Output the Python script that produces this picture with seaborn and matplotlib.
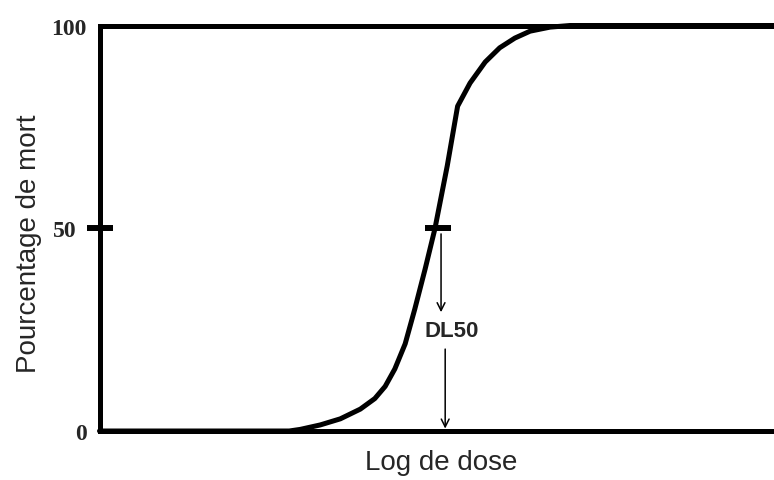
import matplotlib
matplotlib.use("Agg")
import matplotlib.pyplot as plt
import seaborn as sns
import pandas as pd

# dose-response curve (x = log dose, arbitrary units)
log_dose = [0.0, 27.5, 29.1, 32.0, 34.9, 37.8, 39.9, 41.4, 42.8, 44.3, 45.7,
            47.2, 48.6, 50.4, 51.9, 53.7, 55.9, 58.0, 60.2, 62.4, 65.3, 68.2,
            100.0]
mortality = [0.0, 0.0, 0.4, 1.5, 3.0, 5.4, 8.0, 11.0, 15.3, 21.5, 30.1,
             40.0, 49.8, 65.4, 80.1, 85.8, 91.0, 94.5, 96.9, 98.6, 99.6, 100.0,
             100.0]

dl50_x = 49.1
dl50_y = 50
y_major = [0, 100]
y_minor = [50]

sns.set_style("white")
plt.rcParams["font.family"] = ["Liberation Sans", "DejaVu Sans"]

fig = plt.figure(figsize=(7.74, 4.81), dpi=100)
ax = fig.add_axes([99.5 / 774, 49 / 481, 690 / 774, 405.5 / 481])

df = pd.DataFrame({"dose": log_dose, "mort": mortality})
sns.lineplot(data=df, x="dose", y="mort", sort=False, color="black",
             linewidth=3.6, ax=ax, clip_on=False)

# mark at 50 %
ax.plot([dl50_x], [dl50_y], marker="_", markersize=19, markeredgewidth=4.3,
        color="black", clip_on=False)

arrow = dict(arrowstyle="->", color="black", lw=1.1, mutation_scale=14,
             shrinkA=0, shrinkB=0)
ax.annotate("", xy=(49.5, 29.3), xytext=(49.5, 48.6), arrowprops=arrow)
ax.annotate("", xy=(50.1, 0.6), xytext=(50.1, 20.2), arrowprops=arrow)
ax.text(51.1, 24.7, "DL50", ha="center", va="center", fontsize=16,
        fontweight="bold")

ax.set_xlim(0, 100)
ax.set_ylim(0, 100)
ax.set_xticks([])

for side in ["left", "top", "bottom"]:
    ax.spines[side].set_linewidth(3.6)
    ax.spines[side].set_color("black")
ax.spines["right"].set_visible(False)

serif = {"family": "Liberation Serif", "weight": "bold", "size": 17}
ax.set_yticks(y_major, labels=[str(v) for v in y_major], fontdict=serif)
ax.set_yticks(y_minor, labels=[str(v) for v in y_minor], minor=True,
              fontdict=serif)
ax.tick_params(axis="y", which="major", left=True, length=0, pad=9.4)
ax.tick_params(axis="y", which="minor", left=True, length=19.4, width=4.3,
               direction="inout", pad=7, color="black")

ax.set_xlabel("Log de dose", fontsize=20)
ax.set_ylabel("Pourcentage de mort", fontsize=20)
ax.xaxis.set_label_coords(0.495, -0.044)
ax.xaxis.label.set_va("top")
ax.yaxis.set_label_coords(-0.083, 0.465)

fig.savefig("out.png", dpi=100)
